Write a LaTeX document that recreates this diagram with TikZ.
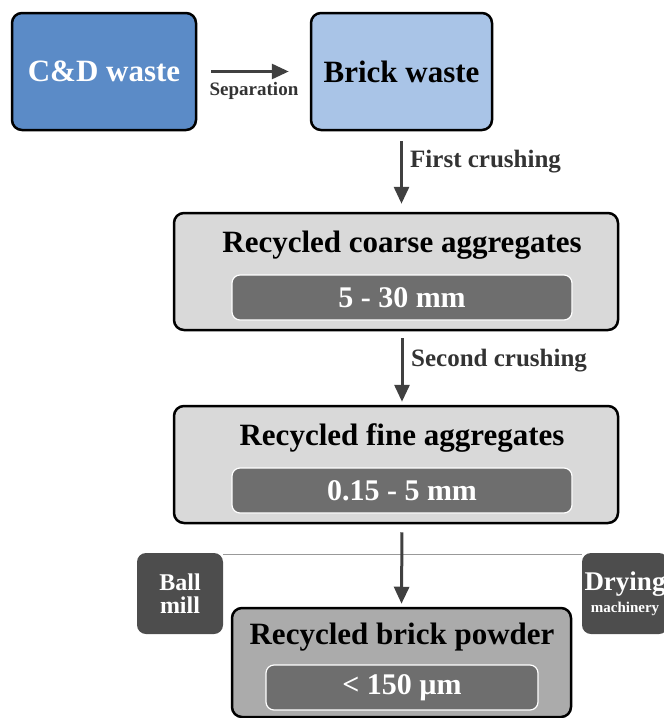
\documentclass[tikz,border=0pt]{standalone}
\usepackage{fontspec}
\setmainfont{Liberation Serif}
\usepackage{xcolor}
\usetikzlibrary{arrows.meta, positioning}

\definecolor{cdblue}{HTML}{5B8BC7}
\definecolor{brickblue}{HTML}{A9C4E7}
\definecolor{lightbox}{HTML}{D9D9D9}
\definecolor{powderbox}{HTML}{ABABAB}
\definecolor{sizebox}{HTML}{6E6E6E}
\definecolor{machbox}{HTML}{4D4D4D}
\definecolor{arrowgray}{HTML}{404040}
\definecolor{labelgray}{HTML}{333333}

\begin{document}
\begin{tikzpicture}[x=1pt, y=-1pt,
    stage/.style={rectangle, rounded corners=10pt, draw=black, line width=2.5pt, inner sep=0pt},
    title/.style={font=\bfseries\fontsize{31}{33}\selectfont, inner sep=0pt},
    sizetag/.style={rectangle, rounded corners=8pt, draw=white, line width=1.2pt, fill=sizebox, text=white,
        minimum width=340pt, minimum height=45pt, inner sep=0pt, font=\bfseries\fontsize{30}{32}\selectfont},
    machine/.style={rectangle, rounded corners=9pt, fill=machbox, text=white, align=center,
        minimum width=86pt, minimum height=81pt, inner sep=0pt},
    step label/.style={text=labelgray, font=\bfseries\fontsize{25}{27}\selectfont, inner sep=0pt, anchor=west},
    arrow/.style={-{Triangle[length=17pt, width=15pt]}, line width=3pt, draw=arrowgray}
]
\path[use as bounding box, clip] (0,0) rectangle (664,718);

% Waste
\node[stage, fill=cdblue, minimum width=184pt, minimum height=117pt, text=white, font=\bfseries\fontsize{31}{33}\selectfont] (cdwaste) at (104,71.5) {C\&D waste};
\node[stage, fill=brickblue, minimum width=181pt, minimum height=117pt, font=\bfseries\fontsize{31}{33}\selectfont] (brick) at (401.5,71.5) {Brick waste};

% Aggregates
\node[stage, fill=lightbox, minimum width=444pt, minimum height=117pt] (coarse) at (396,271.5) {};
\node[title] (coarsetitle) at (402,245) {Recycled coarse aggregates};
\node[sizetag] (coarsesize) at (402,297.5) {5 - 30 mm};

\node[stage, fill=lightbox, minimum width=444pt, minimum height=117pt] (fine) at (396,464.5) {};
\node[title] (finetitle) at (402,438) {Recycled fine aggregates};
\node[sizetag] (finesize) at (402,490.5) {0.15 - 5 mm};

% Powder
\node[machine, font=\bfseries\fontsize{24}{23}\selectfont] (ballmill) at (180,593.5) {Ball\\mill};
\node[machine, font=\bfseries\fontsize{27}{22}\selectfont] (drying) at (625,593.5) {Drying\\{\fontsize{15}{16}\selectfont machinery}};
\draw[draw=gray!80, line width=1.3pt] ([yshift=-2pt]ballmill.north east) -- ([yshift=-2pt]drying.north west);

\node[stage, fill=powderbox, minimum width=339pt, minimum height=109pt] (powder) at (401.5,662.5) {};
\node[title] (powdertitle) at (402,637) {Recycled brick powder};
\node[sizetag, minimum width=272pt] (powdersize) at (402,687.5) {< 150 µm};

% Arrows
\draw[arrow, shorten <=14pt, shorten >=21pt] (cdwaste) -- (brick);
\draw[arrow, shorten <=10pt, shorten >=8pt] (brick.south) -- (brick.south |- coarse.north);
\draw[arrow, shorten <=7pt, shorten >=3pt] (coarse.south -| coarsesize) -- (fine.north -| finesize);
\draw[arrow, shorten <=8pt, shorten >=3pt] (fine.south -| finesize) -- (powder.north);

% Labels
\node[text=labelgray, font=\bfseries\fontsize{19}{21}\selectfont, inner sep=0pt] (seplabel) at (254,91) {Separation};
\node[step label] (firstlabel) at (410,162) {First crushing};
\node[step label] (secondlabel) at (411,361) {Second crushing};

\end{tikzpicture}
\end{document}
